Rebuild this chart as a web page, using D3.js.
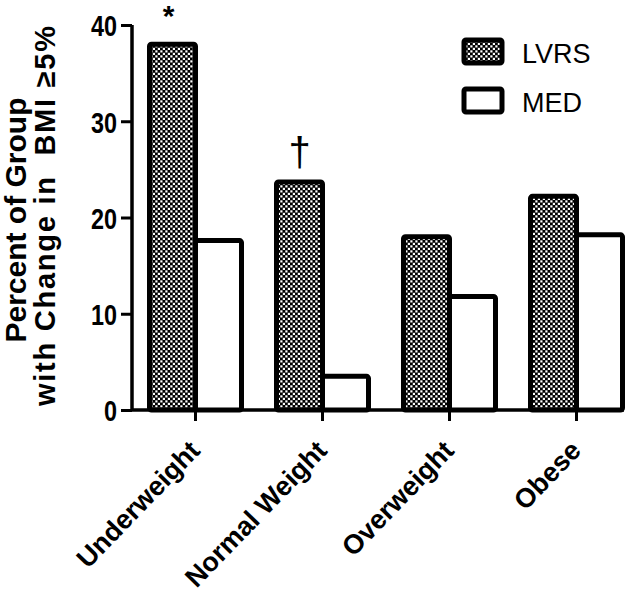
<!DOCTYPE html>
<html><head><meta charset="utf-8">
<script src="https://cdn.jsdelivr.net/npm/d3@7"></script>
<style>body{margin:0;background:#fff}svg{display:block}</style>
</head><body>
<svg id="c" width="640" height="594"></svg>
<script>
const categories = ["Underweight", "Normal Weight", "Overweight", "Obese"];
const lvrs = [38.0, 23.7, 18.0, 22.2];
const med = [17.6, 3.5, 11.8, 18.2];
const yTicks = [0, 10, 20, 30, 40];
const seriesNames = ["LVRS", "MED"];
const marks = ["*", "†", "", ""];

const svg = d3.select("#c");
const font = "'Liberation Sans', Arial, sans-serif";
const defs = svg.append("defs");
const pat = defs.append("pattern").attr("id", "chk").attr("patternUnits", "userSpaceOnUse")
  .attr("width", 5).attr("height", 5);
pat.append("rect").attr("width", 5).attr("height", 5).attr("fill", "#000");
pat.append("rect").attr("x", 0.3).attr("y", 0.3).attr("width", 2.2).attr("height", 2.2).attr("fill", "#fff");
pat.append("rect").attr("x", 2.8).attr("y", 2.8).attr("width", 2.2).attr("height", 2.2).attr("fill", "#fff");

const x0 = 132, y0 = 410;
const x = d3.scaleBand().domain(categories).range([x0, x0 + 4 * 127]);
const y = d3.scaleLinear().domain([0, 40]).range([y0, 25]);
const bw = 46;

const g = svg.append("g");
categories.forEach((c, i) => {
  const cx = x(c) + x.bandwidth() / 2;
  g.append("rect").attr("x", cx - bw).attr("y", y(lvrs[i])).attr("width", bw)
    .attr("height", y(0) - y(lvrs[i])).attr("fill", "url(#chk)").attr("stroke", "#000")
    .attr("stroke-width", 5).attr("rx", 2);
  g.append("rect").attr("x", cx).attr("y", y(med[i])).attr("width", bw)
    .attr("height", y(0) - y(med[i])).attr("fill", "#fff").attr("stroke", "#000")
    .attr("stroke-width", 5).attr("rx", 2);
  if (marks[i] === "*") {
    svg.append("text").attr("x", cx - bw / 2 - 4).attr("y", 26)
      .attr("text-anchor", "middle").attr("font-family", font).attr("font-weight", "bold")
      .attr("font-size", 30).text(marks[i]);
  } else if (marks[i]) {
    svg.append("text").attr("x", cx - bw / 2).attr("y", 166)
      .attr("text-anchor", "middle").attr("font-family", font).attr("font-weight", "normal")
      .attr("font-size", 40).text(marks[i]);
  }
});

// y axis
const yAxis = svg.append("g").attr("transform", `translate(${x0},0)`)
  .call(d3.axisLeft(y).tickValues(yTicks).tickSize(11).tickPadding(3).tickFormat(d3.format("d")));
yAxis.select(".domain").attr("stroke-width", 3.5).attr("d", `M0,${y(40)}V${y0}`);
yAxis.selectAll(".tick line").attr("stroke-width", 3);
const sx = 0.78;
yAxis.selectAll("text").attr("font-family", font).attr("font-weight", "bold").attr("font-size", 30)
  .attr("dy", "0.36em").attr("x", -15 / sx).attr("transform", `scale(${sx},1)`);

// x axis
const xAxis = svg.append("g").attr("transform", `translate(0,${y0})`)
  .call(d3.axisBottom(x).tickSize(11).tickFormat(""));
xAxis.select(".domain").attr("stroke-width", 3.5).attr("d", `M${x0},0H624`);
xAxis.selectAll(".tick line").attr("stroke-width", 3);
categories.forEach(c => {
  const cx = x(c) + x.bandwidth() / 2;
  svg.append("text").attr("transform", `translate(${cx + 6},${y0 + 42}) rotate(-46)`)
    .attr("text-anchor", "end").attr("font-family", font).attr("font-weight", "bold")
    .attr("font-size", 27).text(c);
});

// y label
const yl = svg.append("text").attr("transform", "rotate(-90)")
  .attr("text-anchor", "middle").attr("font-family", font).attr("font-weight", "bold");
yl.append("tspan").attr("x", -220).attr("y", 26).attr("font-size", 30).text("Percent of Group");
yl.append("tspan").attr("x", -216).attr("y", 55).attr("font-size", 29)
  .attr("textLength", 380).attr("lengthAdjust", "spacing")
  .text("with Change in\u00a0 BMI \u22655%");

// legend
const lg = svg.append("g");
seriesNames.forEach((s, i) => {
  const ly = 40 + i * 49;
  lg.append("rect").attr("x", 464).attr("y", ly).attr("width", 38).attr("height", 23)
    .attr("fill", i === 0 ? "url(#chk)" : "#fff").attr("stroke", "#000").attr("stroke-width", 5).attr("rx", 2);
  lg.append("text").attr("x", 522).attr("y", ly + 23).attr("font-family", font)
    .attr("font-size", 27).text(s);
});
</script>
</body></html>
